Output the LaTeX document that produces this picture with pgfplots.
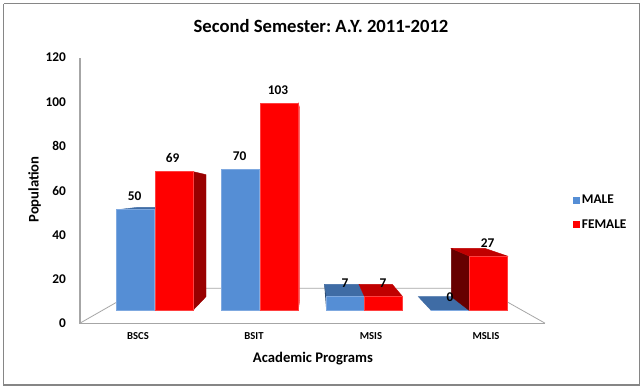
\documentclass[border=0pt]{standalone}
\usepackage{pgfplots}
\usepackage{fontspec}
\setmainfont{Carlito}
\frenchspacing
\pgfplotsset{compat=1.18}
\definecolor{male}{HTML}{558ED5}
\definecolor{maleedge}{HTML}{7FA9E0}
\definecolor{maletop}{HTML}{3F6CA5}
\definecolor{fem}{HTML}{FF0000}
\definecolor{femedge}{HTML}{FF4040}
\definecolor{femtop}{HTML}{C00000}
\definecolor{femside}{HTML}{990000}
\definecolor{femdark}{HTML}{660000}
\definecolor{wallgray}{HTML}{A6A6A6}
\definecolor{framegray}{HTML}{868686}
\pgfplotsset{squarelegend/.style={legend image code/.code={\fill[#1,draw=none] (0pt,-2.6pt) rectangle (5.2pt,2.6pt);}}}
\begin{document}
\begin{tikzpicture}
\begin{axis}[
  at={(0pt,0pt)},anchor=south west,
  scale only axis,width=481.5pt,height=290.25pt,
  xmin=0,xmax=642,ymin=-38.16,ymax=154.38,
  axis lines=none,clip=false,
  axis background/.style={fill=white},
  legend style={at={(axis cs:573,58.3)},anchor=north west,draw=none,fill=none,
    font=\fontsize{10}{12}\selectfont\bfseries,row sep=7.3pt,inner sep=0pt,outer sep=0pt,
    nodes={inner sep=1.5pt}},
  legend cell align=left,
]
% outer frame
\addplot[framegray,line width=1.2pt,forget plot] coordinates {(3.5,152.6)(639.5,152.6)(639.5,-37.3)(3.5,-37.3)(3.5,152.6)};
% floor and back wall
\addplot[wallgray,line width=0.6pt,forget plot] coordinates {(80,-6.4)(141,10.95)(483,10.95)(545,-6.4)};
% zero-height bar, top face
\addplot[fill=maletop,draw=maletop,line width=0.3pt,forget plot] coordinates {(431,0)(469,0)(451.3,6.8)(418.3,6.8)} -- cycle;
% male tops
\addplot[fill=maletop,draw=maletop,line width=0.3pt,forget plot] coordinates {(116.5,50)(155,50)(155,51.2)(137,51.2)} -- cycle;
\addplot[fill=maletop,draw=maletop,line width=0.3pt,forget plot] coordinates {(326.3,7)(364.3,7)(359,12.9)(324.3,12.9)} -- cycle;
\addplot[fill=maletop!70!black,draw=none,forget plot] coordinates {(324.3,12.9)(326.3,7)(326.3,0)(325.3,6)} -- cycle;
% male fronts
\addplot[ybar,bar width=28.5pt,bar shift=0pt,fill=male,draw=maleedge,line width=0.5pt,squarelegend]
  coordinates {(135.75,50)(240.6,70)(345.3,7)(450,0)};
\addlegendentry{MALE}
% female sides and tops
\addplot[fill=femside,draw=femside,line width=0.3pt,forget plot] coordinates {(193,69)(206,67.5)(206,6.8)(193,0)} -- cycle;
\addplot[fill=femedge,draw=femedge,line width=0.3pt,forget plot] coordinates {(298.3,103)(299.7,100.6)(299.7,5)(298.3,0)} -- cycle;
\addplot[fill=femtop,draw=femtop,line width=0.3pt,forget plot] coordinates {(364.3,7)(402.3,7)(392.3,12.9)(359,12.9)} -- cycle;
\addplot[fill=femdark,draw=femdark,line width=0.3pt,forget plot] coordinates {(469,27)(451.3,30.8)(451.3,6.8)(469,0)} -- cycle;
\addplot[fill=femtop,draw=femtop,line width=0.3pt,forget plot] coordinates {(451.3,30.8)(469,27)(507.3,27)(485,30.8)} -- cycle;
% female fronts
\addplot[ybar,bar width=28.5pt,bar shift=0pt,fill=fem,draw=femedge,line width=0.5pt,squarelegend]
  coordinates {(174,69)(279,103)(383.3,7)(488.2,27)};
\addlegendentry{FEMALE}
% value labels
\addplot[only marks,mark=none,forget plot,point meta=explicit symbolic,
  nodes near coords,
  every node near coord/.style={anchor=center,inner sep=0pt,text=black,
    font=\fontsize{10}{12}\selectfont\bfseries}]
  coordinates {(134.7,56.9)[50] (172.7,75.8)[69] (239.7,76.8)[70] (278,109.6)[103]
               (345,13.7)[7] (383,13.7)[7] (450,6.6)[0] (487.7,33.5)[27]};
\node[font=\fontsize{14}{16}\selectfont\bfseries,text=black] at (axis cs:321,141.4) {Second Semester: A.Y. 2011-2012};
\end{axis}
\begin{axis}[
  at={(60pt,47.6pt)},anchor=south west,
  scale only axis,width=348.75pt,height=199.5pt,
  xmin=80,xmax=545,ymin=0,ymax=120,
  axis x line=bottom,axis y line=left,
  axis line style={wallgray,line width=1pt,-},
  tick style={draw=none},
  ytick={0,20,...,120},
  xtick={138,254,371,486},
  xticklabels={BSCS,BSIT,MSIS,MSLIS},
  yticklabel style={font=\fontsize{10}{12}\selectfont\bfseries,
    /pgf/number format/assume math mode=true,anchor=east,xshift=-5pt},
  xticklabel style={font=\fontsize{8}{10}\selectfont\bfseries,anchor=center,yshift=-7.5pt},
  xlabel={Academic Programs},
  ylabel={Population},
  xlabel style={font=\fontsize{11}{13}\selectfont\bfseries,at={(axis cs:313,0)},anchor=center,yshift=-26.5pt},
  ylabel style={font=\fontsize{11}{13}\selectfont\bfseries,at={(axis cs:80,60.5)},anchor=center,rotate=0,yshift=34pt},
]
\end{axis}
\end{tikzpicture}
\end{document}
